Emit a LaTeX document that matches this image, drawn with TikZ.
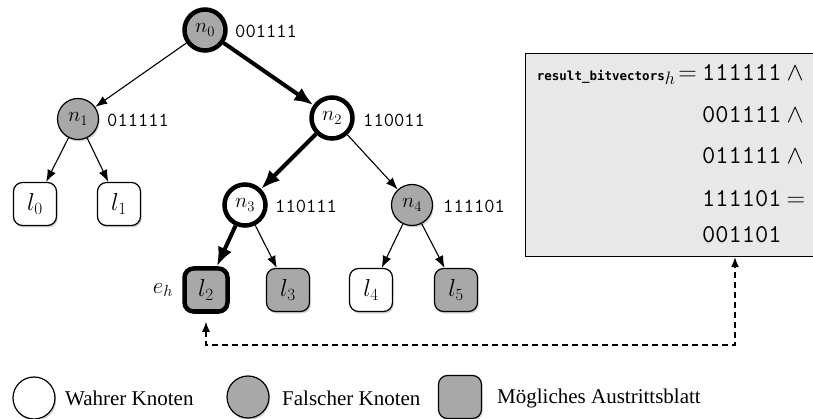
\RequirePackage{fix-cm}
\documentclass[tikz,border=0pt]{standalone}
\usepackage{fontspec}
\setmainfont{Liberation Serif}
\newfontfamily\dvmono{DejaVu Sans Mono}
\usetikzlibrary{arrows.meta,shadows}
\definecolor{nodegray}{HTML}{A8A8A8}
\definecolor{boxgray}{HTML}{E8E8E8}
\tikzset{
  shad/.style={drop shadow={shadow xshift=1.2pt,shadow yshift=-2pt,opacity=.35}},
  nd/.style={circle, draw, line width=1.2pt, minimum size=41pt, inner sep=0pt,
             font=\fontsize{21}{24}\selectfont, shad},
  truen/.style={nd, fill=white},
  falsen/.style={nd, fill=nodegray},
  leaf/.style={rectangle, rounded corners=9pt, draw, line width=1.2pt, minimum size=43pt,
             inner sep=0pt, font=\fontsize{24.5}{28}\selectfont, shad},
  wleaf/.style={leaf, fill=white},
  gleaf/.style={leaf, fill=nodegray},
  bold/.style={line width=4.5pt},
  bits/.style={font=\ttfamily\fontsize{20}{24}\selectfont, anchor=west, inner sep=0pt},
  row/.style={font=\fontsize{25.7}{30}\selectfont, anchor=base west, inner sep=0pt},
  thinedge/.style={line width=1.1pt, -{Latex[length=12pt,width=9pt]}},
  thickedge/.style={line width=4pt, -{Latex[length=19pt,width=15pt]}},
  dashline/.style={line width=1.3pt, dash pattern=on 6pt off 4pt,
             {Latex[length=10pt,width=8pt]}-{Latex[length=10pt,width=8pt]}},
  legtext/.style={font=\fontsize{21}{25}\selectfont, anchor=west, inner sep=0pt},
}
\begin{document}
\begin{tikzpicture}[x=1pt,y=-1pt]
\useasboundingbox (0,0) rectangle (813,419);
\clip (0,0) rectangle (813,419);

% tree nodes
\node[falsen, bold] (n0) at (205,30) {$n_0$};
\node[falsen] (n1) at (78,119) {$n_1$};
\node[truen, bold] (n2) at (332,118) {$n_2$};
\node[truen, bold] (n3) at (245,205) {$n_3$};
\node[falsen] (n4) at (412,205) {$n_4$};

\node[wleaf] (l0) at (35,204) {$l_0$};
\node[wleaf] (l1) at (119,204) {$l_1$};
\node[gleaf, bold] (l2) at (206,290) {$l_2$};
\node[gleaf] (l3) at (288,290) {$l_3$};
\node[wleaf] (l4) at (371,290) {$l_4$};
\node[gleaf] (l5) at (456,290) {$l_5$};

\node[font=\fontsize{23}{26}\selectfont, inner sep=0pt] (eh) at (163,290) {$e_h$};

% bit labels
\node[bits] (b0) at (235,31) {001111};
\node[bits] (b1) at (107,120) {011111};
\node[bits] (b2) at (363,120) {110011};
\node[bits] (b3) at (275,206) {110111};
\node[bits] (b4) at (443,206) {111101};

% edges
\draw[thinedge] (n0) -- (n1);
\draw[thickedge] (n0) -- (n2);
\draw[thinedge] (n1) -- (l0);
\draw[thinedge] (n1) -- (l1);
\draw[thickedge] (n2) -- (n3);
\draw[thinedge] (n2) -- (n4);
\draw[thickedge] (n3) -- (l2);
\draw[thinedge] (n3) -- (l3);
\draw[thinedge] (n4) -- (l4);
\draw[thinedge] (n4) -- (l5);

% result box
\node[draw, fill=boxgray, line width=1.2pt, anchor=north west, minimum width=310pt,
      minimum height=203pt, inner sep=0pt] (box) at (525,53) {};
\node[font=\fontsize{25.7}{30}\selectfont, anchor=base east, inner sep=0pt] (rl) at (697,81)
  {\mbox{\dvmono\bfseries\fontsize{12.5}{15}\selectfont result\_bitvectors}$_h\!=$};
\node[row] (r1) at (702,81) {\ttfamily 111111\hspace{5pt}$\wedge$};
\node[row] (r2) at (702,123) {\ttfamily 001111\hspace{5pt}$\wedge$};
\node[row] (r3) at (702,164) {\ttfamily 011111\hspace{5pt}$\wedge$};
\node[row] (r4) at (702,207) {\ttfamily 111101\hspace{5pt}$=$};
\node[row] (r5) at (702,243) {\ttfamily 001101};

% dashed connector
\coordinate (c2) at (735,345);
\draw[dashline, shorten <=8pt] (l2.south) |- (c2) -- (c2 |- box.south);

% legend
\node[truen, minimum size=42pt] (lg1) at (34,398) {};
\node[legtext] (lt1) at (65,398) {Wahrer Knoten};
\node[falsen, minimum size=42pt] (lg2) at (248,397) {};
\node[legtext] (lt2) at (282,398) {Falscher Knoten};
\node[gleaf] (lg3) at (460,397) {};
\node[legtext] (lt3) at (497,398) {Mögliches Austrittsblatt};
\end{tikzpicture}
\end{document}
